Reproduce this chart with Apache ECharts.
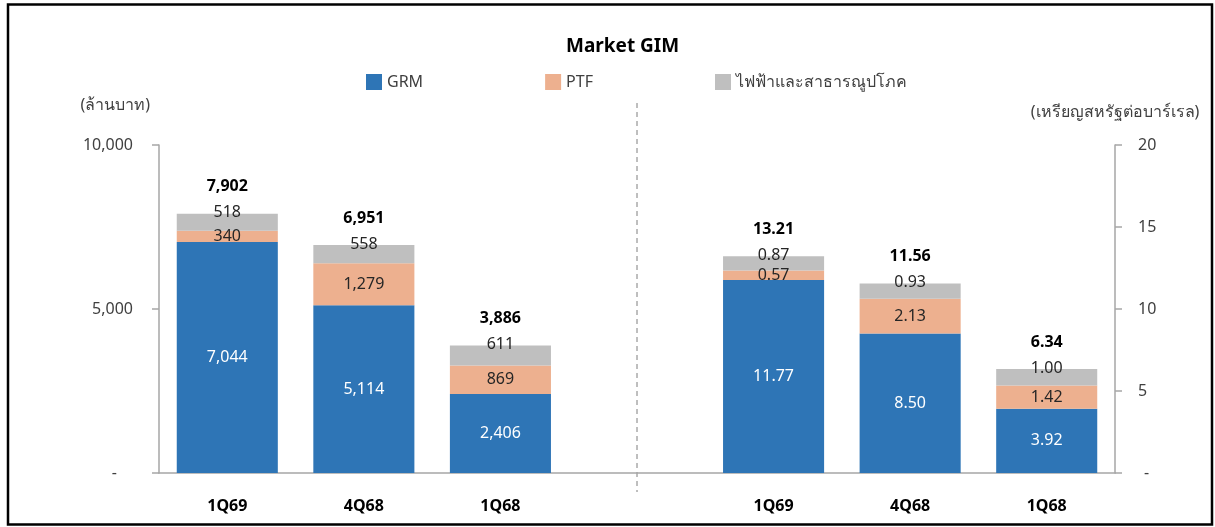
<!DOCTYPE html>
<html>
<head>
<meta charset="utf-8">
<script src="https://cdn.jsdelivr.net/npm/echarts@6/dist/echarts.min.js"></script>
<style>
  html, body { margin: 0; padding: 0; background: #fff; }
  #main { width: 1215px; height: 527px; }
</style>
</head>
<body>
<div id="main"></div>
<script>
  // quarters shown on both halves of the chart
  const quarters = ['1Q69', '4Q68', '1Q68'];
  const seriesNames = ['GRM', 'PTF', 'ไฟฟ้าและสาธารณูปโภค'];

  // left half, million baht
  const grmBaht = [7044, 5114, 2406];
  const ptfBaht = [340, 1279, 869];
  const utilBaht = [518, 558, 611];

  // right half, USD per barrel
  const grmUsd = [11.77, 8.50, 3.92];
  const ptfUsd = [0.57, 2.13, 1.42];
  const utilUsd = [0.87, 0.93, 1.00];

  const bahtAxis = { min: 0, max: 10000, interval: 5000 };
  const usdAxis = { min: 0, max: 20, interval: 5 };

  const colors = ['#2e75b6', '#edb08f', '#bfbfbf'];
  const font = '"Noto Sans", "Liberation Sans", sans-serif';

  // one category axis: 3 quarters, an empty gap, 3 quarters again
  const categories = [...quarters, '', ...quarters];
  const gap = [null];
  const leftSide = arr => [...arr, ...gap, null, null, null];
  const rightSide = arr => [null, null, null, ...gap, ...arr];

  const fmtBaht = v => Number(v).toLocaleString('en-US');
  const fmtUsd = v => Number(v).toFixed(2);

  const totalsBaht = grmBaht.map((v, i) => v + ptfBaht[i] + utilBaht[i]);
  const totalsUsd = grmUsd.map((v, i) => v + ptfUsd[i] + utilUsd[i]);

  function segment(name, data, axis, idx, fmt) {
    let label = {
      show: true,
      fontFamily: font,
      fontSize: 16,
      color: idx === 0 ? '#ffffff' : '#262626',
      formatter: p => fmt(p.value)
    };
    if (idx === 2) {
      label.position = 'top';
      label.distance = -7;
    }
    return {
      name: name,
      type: 'bar',
      stack: 'all',
      yAxisIndex: axis,
      barCategoryGap: '26%',
      itemStyle: { color: colors[idx] },
      label: label,
      data: data
    };
  }

  function totals(data, totalsArr, axis, fmt, offset) {
    return {
      name: 'total',
      type: 'bar',
      stack: 'all',
      yAxisIndex: axis,
      itemStyle: { color: 'transparent' },
      label: {
        show: true,
        position: 'top',
        distance: 19,
        fontFamily: font,
        fontSize: 16,
        fontWeight: 'bold',
        color: '#000',
        formatter: p => fmt(totalsArr[p.dataIndex - offset])
      },
      data: data
    };
  }

  const chart = echarts.init(document.getElementById('main'));

  const option = {
    animation: false,
    title: {
      text: 'Market GIM',
      left: 561,
      top: 32,
      textStyle: { fontFamily: font, fontSize: 19, fontWeight: 'bold', color: '#000' }
    },
    legend: {
      data: seriesNames,
      left: 361,
      top: 69,
      itemWidth: 16,
      itemHeight: 16,
      itemGap: 122,
      icon: 'rect',
      textStyle: { fontFamily: font, fontSize: 16, color: '#404040' }
    },
    grid: { left: 159, right: 100, top: 145, bottom: 54, containLabel: false },
    xAxis: {
      type: 'category',
      data: categories,
      axisLine: { lineStyle: { color: '#a6a6a6', width: 1.5 } },
      axisTick: { show: false },
      axisLabel: { fontFamily: font, fontSize: 16, fontWeight: 'bold', color: '#000', margin: 25 }
    },
    yAxis: [
      {
        type: 'value',
        position: 'left',
        min: bahtAxis.min,
        max: bahtAxis.max,
        interval: bahtAxis.interval,
        name: '(ล้านบาท)',
        nameLocation: 'end',
        nameGap: 32,
        nameTextStyle: { fontFamily: font, fontSize: 16, color: '#404040', align: 'right', padding: [0, 9, 0, 0] },
        axisLine: { show: true, lineStyle: { color: '#a6a6a6', width: 1.5 } },
        axisTick: { show: true, length: 7, lineStyle: { color: '#a6a6a6', width: 1.5 } },
        splitLine: { show: false },
        axisLabel: {
          fontFamily: font, fontSize: 16, color: '#404040', margin: 26,
          formatter: v => v === 0 ? '{d|-}' : fmtBaht(v),
          rich: { d: { fontFamily: font, fontSize: 16, color: '#404040', padding: [0, 16, 0, 0] } }
        }
      },
      {
        type: 'value',
        position: 'right',
        min: usdAxis.min,
        max: usdAxis.max,
        interval: usdAxis.interval,
        name: '(เหรียญสหรัฐต่อบาร์เรล)',
        nameLocation: 'end',
        nameGap: 25,
        nameTextStyle: { fontFamily: font, fontSize: 16, color: '#404040', align: 'center' },
        axisLine: { show: true, lineStyle: { color: '#a6a6a6', width: 1.5 } },
        axisTick: { show: true, length: 7, lineStyle: { color: '#a6a6a6', width: 1.5 } },
        splitLine: { show: false },
        axisLabel: {
          fontFamily: font, fontSize: 16, color: '#404040', margin: 23,
          formatter: v => v === 0 ? '{d|-}' : String(v),
          rich: { d: { fontFamily: font, fontSize: 16, color: '#404040', padding: [0, 0, 0, 6] } }
        }
      }
    ],
    series: [
      segment(seriesNames[0], leftSide(grmBaht), 0, 0, fmtBaht),
      segment(seriesNames[1], leftSide(ptfBaht), 0, 1, fmtBaht),
      segment(seriesNames[2], leftSide(utilBaht), 0, 2, fmtBaht),
      totals(leftSide(grmBaht.map(() => 0)), totalsBaht, 0, fmtBaht, 0),
      segment(seriesNames[0], rightSide(grmUsd), 1, 0, fmtUsd),
      segment(seriesNames[1], rightSide(ptfUsd), 1, 1, fmtUsd),
      segment(seriesNames[2], rightSide(utilUsd), 1, 2, fmtUsd),
      totals(rightSide(grmUsd.map(() => 0)), totalsUsd, 1, fmtUsd, 4)
    ]
  };

  chart.setOption(option);

  // dashed divider through the empty gap category, plus the outer frame
  const gapX = chart.convertToPixel({ xAxisIndex: 0 }, 3);
  chart.setOption({
    graphic: [
      {
        type: 'line',
        shape: { x1: gapX, y1: 103, x2: gapX, y2: 492 },
        style: { stroke: '#7f7f7f', lineWidth: 1, lineDash: [5, 4] }
      },
      {
        type: 'rect',
        shape: { x: 8, y: 4.5, width: 1204, height: 520 },
        style: { fill: 'none', stroke: '#000', lineWidth: 2.5 }
      }
    ]
  });
</script>
</body>
</html>
